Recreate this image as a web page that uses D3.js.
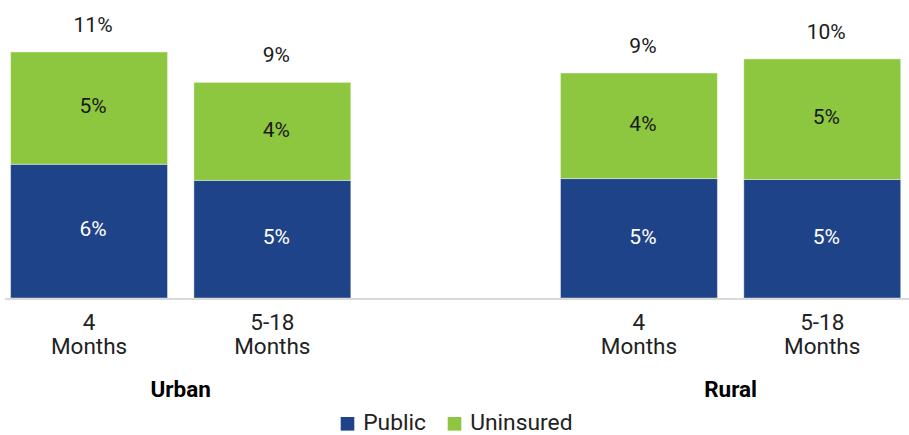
<!DOCTYPE html>
<html>
<head>
<meta charset="utf-8">
<script src="https://cdn.jsdelivr.net/npm/d3@7"></script>
<style>
  html, body { margin: 0; padding: 0; background: #fff; }
  svg { display: block; font-family: Roboto, "Noto Sans", sans-serif; }
</style>
</head>
<body>
<div id="chart"></div>
<script>
// Data
const groups = ['Urban', 'Rural'];
const periods = [['4', 'Months'], ['5-18', 'Months']];
const publicValues = [5.98, 5.26, 5.34, 5.30];
const uninsuredValues = [5.02, 4.38, 4.72, 5.39];
const publicLabels = ['6%', '5%', '5%', '5%'];
const uninsuredLabels = ['5%', '4%', '4%', '5%'];
const totalLabels = ['11%', '9%', '9%', '10%'];
const seriesNames = ['Public', 'Uninsured'];

const colors = { Public: '#1f4388', Uninsured: '#8dc63f' };

const width = 909, height = 435;

// one empty slot between the two groups, like the source
const slots = ['Urban|0', 'Urban|1', 'gap', 'Rural|0', 'Rural|1'];
const bars = [];
groups.forEach(g => periods.forEach((p, j) => bars.push({ group: g, key: `${g}|${j}`, period: p })));
bars.forEach((b, i) => {
  b.pub = publicValues[i];
  b.unins = uninsuredValues[i];
  b.pubLabel = publicLabels[i];
  b.uninsLabel = uninsuredLabels[i];
  b.totalLabel = totalLabels[i];
});

const svg = d3.select('#chart').append('svg')
  .attr('width', width)
  .attr('height', height);

const x = d3.scaleBand()
  .domain(slots)
  .range([-2.6, 913.9])
  .paddingInner(0.144)
  .paddingOuter(0.072);

const y = d3.scaleLinear()
  .domain([0, 11])
  .range([298, 52]);

// Bars
const barG = svg.append('g');
bars.forEach(b => {
  barG.append('rect')
    .attr('x', x(b.key))
    .attr('width', x.bandwidth())
    .attr('y', y(b.pub))
    .attr('height', y(0) - y(b.pub))
    .attr('fill', colors.Public)
    .attr('stroke', '#ffffff')
    .attr('stroke-opacity', 0.4)
    .attr('stroke-width', 1);

  barG.append('rect')
    .attr('x', x(b.key))
    .attr('width', x.bandwidth())
    .attr('y', y(b.pub + b.unins))
    .attr('height', y(b.pub) - y(b.pub + b.unins))
    .attr('fill', colors.Uninsured)
    .attr('stroke', '#ffffff')
    .attr('stroke-opacity', 0.4)
    .attr('stroke-width', 1);
});

// Baseline
svg.append('line')
  .attr('x1', 5).attr('x2', width)
  .attr('y1', y(0) + 1).attr('y2', y(0) + 1)
  .attr('stroke', '#d9d9d9')
  .attr('stroke-width', 2);

// Value labels (the source sits them a few px right of bar centre)
const labelG = svg.append('g')
  .attr('text-anchor', 'middle')
  .style('font-size', '21px');

bars.forEach(b => {
  const cx = x(b.key) + x.bandwidth() / 2 + 4;
  labelG.append('text')
    .attr('x', cx)
    .attr('y', (y(0) + y(b.pub)) / 2)
    .attr('dy', '0.25em')
    .attr('fill', '#ffffff')
    .text(b.pubLabel);
  labelG.append('text')
    .attr('x', cx)
    .attr('y', (y(b.pub) + y(b.pub + b.unins)) / 2)
    .attr('dy', '0.25em')
    .attr('fill', '#1a1a1a')
    .text(b.uninsLabel);
  labelG.append('text')
    .attr('x', cx)
    .attr('y', y(b.pub + b.unins) - 20)
    .attr('fill', '#1a1a1a')
    .text(b.totalLabel);
});

// Category axis: two-line period labels, then group names
const axisG = svg.append('g')
  .attr('text-anchor', 'middle')
  .attr('fill', '#222');

bars.forEach(b => {
  const cx = x(b.key) + x.bandwidth() / 2;
  const t = axisG.append('text')
    .attr('x', cx)
    .attr('y', 329.5)
    .style('font-size', '22.5px');
  t.append('tspan').attr('x', cx).text(b.period[0]);
  t.append('tspan').attr('x', cx).attr('dy', 24.8).text(b.period[1]);
});

groups.forEach(g => {
  const first = x(`${g}|0`);
  const last = x(`${g}|1`) + x.bandwidth();
  axisG.append('text')
    .attr('x', (first + last) / 2)
    .attr('y', 396.5)
    .style('font-size', '22.5px')
    .style('font-weight', 'bold')
    .attr('fill', '#000')
    .text(g);
});

// Legend
const legendX = [340.7, 447.7];
const legend = svg.append('g');
seriesNames.forEach((s, i) => {
  legend.append('rect')
    .attr('x', legendX[i])
    .attr('y', 417)
    .attr('width', 13.6)
    .attr('height', 13.6)
    .attr('fill', colors[s]);
  legend.append('text')
    .attr('x', legendX[i] + 22.5)
    .attr('y', 430.3)
    .style('font-size', '22.8px')
    .attr('fill', '#222')
    .text(s);
});
</script>
</body>
</html>
